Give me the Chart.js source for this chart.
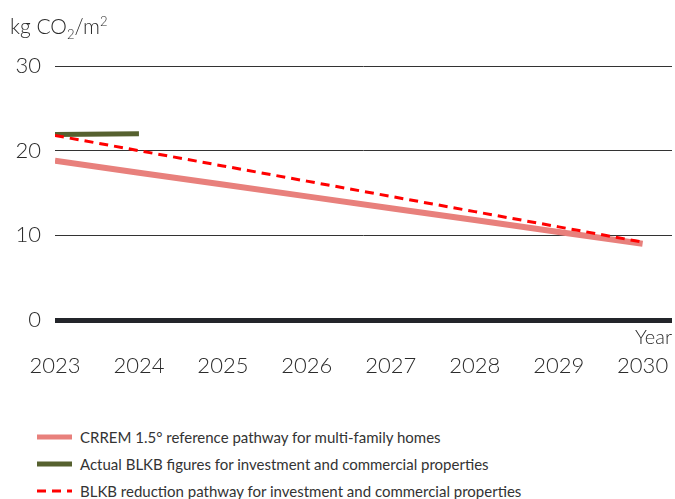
<!DOCTYPE html>
<html>
<head>
<meta charset="utf-8">
<script src="https://cdn.jsdelivr.net/npm/chart.js@4"></script>
<style>
  body { margin: 0; background: #fff; font-family: Lato, sans-serif; font-weight: 300; color: #2b2b2b; }
  #wrap { position: relative; width: 675px; height: 499px; overflow: hidden; }
  #box { position: absolute; left: 0; top: 0; width: 675px; height: 400px; }
  #unit { position: absolute; left: 10px; top: 13px; font-size: 21px; }
  #unit sub, #unit sup { font-size: 13px; }
  #legend { position: absolute; left: 37px; top: 423px; font-size: 15px; font-weight: 400; color: #333; }
  .item { height: 27px; display: flex; align-items: center; }
  .item svg { margin-right: 8px; }
</style>
</head>
<body>
<div id="wrap">
  <div id="box"><canvas id="chart"></canvas></div>
  <div id="unit">kg CO<sub>2</sub>/m<sup>2</sup></div>
  <div id="legend"></div>
</div>
<script>
var years = [2023, 2024, 2025, 2026, 2027, 2028, 2029, 2030];
var yTicks = [0, 10, 20, 30];

var crremValues = [18.8, 17.4, 16.0, 14.6, 13.2, 11.8, 10.4, 9.0];
var actualYears = [2023, 2024];
var actualValues = [21.9, 22.0];
var reductionValues = [21.8, 20.0, 18.2, 16.4, 14.6, 12.8, 11.0, 9.2];

var labels = [
  "CRREM 1.5° reference pathway for multi-family homes",
  "Actual BLKB figures for investment and commercial properties",
  "BLKB reduction pathway for investment and commercial properties"
];

function points(xs, ys) {
  return xs.map(function (x, i) { return { x: x, y: ys[i] }; });
}

var textColor = "#2b2b2b";
var tickFont = { family: "Lato", size: 22, weight: "300" };

// "Year" caption sits between the zero line and the year labels
var yearCaption = {
  id: "yearCaption",
  afterDraw: function (c) {
    var ctx = c.ctx;
    ctx.save();
    ctx.font = "300 20px Lato";
    ctx.fillStyle = textColor;
    ctx.textAlign = "right";
    ctx.textBaseline = "middle";
    ctx.fillText("Year", c.chartArea.right, c.chartArea.bottom + 18);
    ctx.restore();
  }
};

var chart = new Chart(document.getElementById("chart"), {
  type: "line",
  data: {
    datasets: [{
      label: labels[0],
      data: points(years, crremValues),
      borderColor: "#e8807c",
      borderWidth: 6,
      pointRadius: 0,
      order: 3
    }, {
      label: labels[1],
      data: points(actualYears, actualValues),
      borderColor: "#56612f",
      borderWidth: 5,
      pointRadius: 0,
      order: 2
    }, {
      label: labels[2],
      data: points(years, reductionValues),
      borderColor: "#ff0000",
      borderWidth: 3,
      borderDash: [9, 6],
      pointRadius: 0,
      order: 1
    }]
  },
  options: {
    responsive: true,
    maintainAspectRatio: false,
    animation: false,
    layout: { padding: { top: 66, right: 3, left: 0, bottom: 0 } },
    plugins: { legend: { display: false }, tooltip: { enabled: false } },
    scales: {
      x: {
        type: "linear",
        min: 2023,
        max: 2030.35,
        afterBuildTicks: function (scale) {
          scale.ticks = years.map(function (v) { return { value: v }; });
        },
        afterFit: function (scale) {
          scale.height = 80;
          scale.paddingLeft = 0;
          scale.paddingRight = 0;
        },
        grid: { display: false },
        border: { display: false },
        ticks: {
          autoSkip: false,
          maxRotation: 0,
          padding: 25,
          color: textColor,
          font: tickFont,
          callback: function (v) { return String(v); }
        }
      },
      y: {
        min: 0,
        max: 30,
        afterBuildTicks: function (scale) {
          scale.ticks = yTicks.map(function (v) { return { value: v }; });
        },
        afterFit: function (scale) { scale.width = 55; },
        border: { display: false },
        grid: {
          drawTicks: false,
          color: function (c) { return c.tick && c.tick.value === 0 ? "#23252a" : "#333"; },
          lineWidth: function (c) { return c.tick && c.tick.value === 0 ? 5 : 1; }
        },
        ticks: {
          padding: 14,
          color: textColor,
          font: tickFont
        }
      }
    }
  },
  plugins: [yearCaption]
});

// legend rows built from the datasets
var legend = document.getElementById("legend");
chart.data.datasets.forEach(function (ds) {
  var row = document.createElement("div");
  row.className = "item";
  var w = ds.borderDash ? 3 : 5;
  var dash = ds.borderDash ? ' stroke-dasharray="9 6"' : "";
  row.innerHTML = '<svg width="35" height="8"><line x1="0" y1="4" x2="35" y2="4" stroke="' +
    ds.borderColor + '" stroke-width="' + w + '"' + dash + '/></svg><span>' + ds.label + "</span>";
  legend.appendChild(row);
});
</script>
</body>
</html>
